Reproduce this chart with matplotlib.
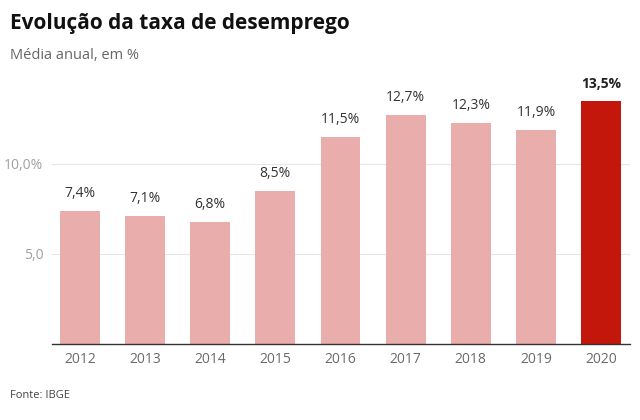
import matplotlib

matplotlib.use("Agg")
import matplotlib.pyplot as plt

years = ["2012", "2013", "2014", "2015", "2016", "2017", "2018", "2019", "2020"]
rates = [7.4, 7.1, 6.8, 8.5, 11.5, 12.7, 12.3, 11.9, 13.5]
value_labels = ["7,4%", "7,1%", "6,8%", "8,5%", "11,5%", "12,7%", "12,3%", "11,9%", "13,5%"]
ytick_values = [5, 10]
ytick_labels = ["5,0", "10,0%"]

plt.rcParams["font.family"] = ["Open Sans", "DejaVu Sans"]

fig = plt.figure(figsize=(6.4, 4.2), dpi=100)
ax = fig.add_axes([0.081, 0.181, 0.903, 0.643])

pink = "#e9adab"
red = "#c4170c"
colors = [pink] * (len(years) - 1) + [red]
x = list(range(len(years)))
bars = ax.bar(x, rates, width=0.61, color=colors, zorder=2)

for i, (b, lab) in enumerate(zip(bars, value_labels)):
    last = i == len(years) - 1
    ax.text(b.get_x() + b.get_width() / 2, b.get_height() + 0.55, lab,
            ha="center", va="bottom", fontsize=10,
            color="#222222" if last else "#333333",
            weight="bold" if last else "normal")

ax.set_xlim(-0.43, 8.44)
ax.set_ylim(0, 15)
ax.set_xticks(x)
ax.set_xticklabels(years, fontsize=10, color="#6a6a6a")
ax.set_yticks(ytick_values)
ax.set_yticklabels(ytick_labels, fontsize=10, color="#a0a0a0")
ax.tick_params(axis="both", length=0)
ax.tick_params(axis="x", pad=6)
ax.tick_params(axis="y", pad=6)
ax.yaxis.grid(True, color="#e6e6e6", linewidth=0.8, zorder=0)
ax.set_axisbelow(True)
for side in ["top", "right", "left"]:
    ax.spines[side].set_visible(False)
ax.spines["bottom"].set_color("#333333")
ax.spines["bottom"].set_linewidth(1.0)

fig.text(0.016, 0.945, "Evolução da taxa de desemprego", fontsize=15, weight="bold",
         color="#111111", va="center", ha="left")
fig.text(0.016, 0.868, "Média anual, em %", fontsize=10.5, color="#666666",
         va="center", ha="left")
fig.text(0.016, 0.058, "Fonte: IBGE", fontsize=8, color="#444444", va="center", ha="left")

fig.savefig("out.png", dpi=100)
